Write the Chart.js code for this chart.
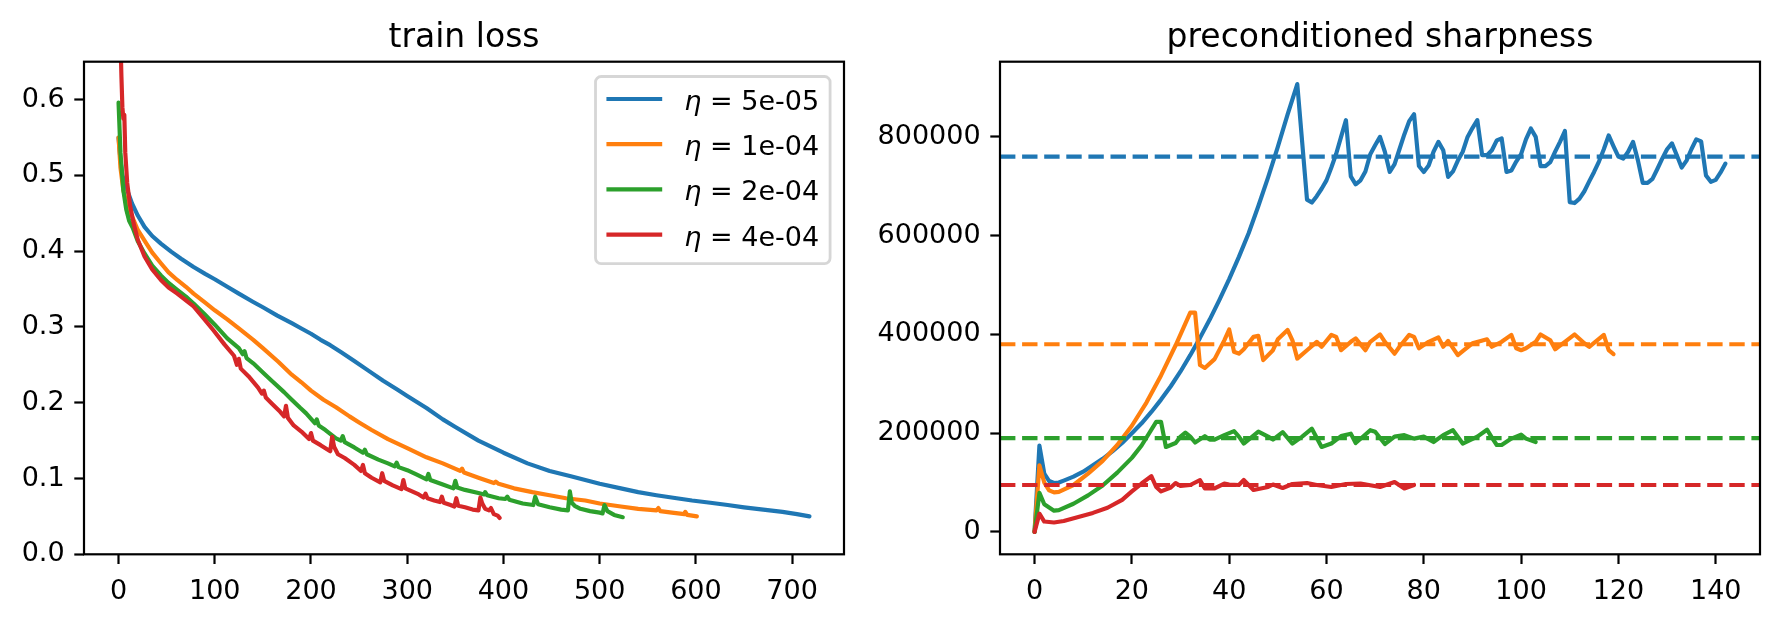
<!DOCTYPE html>
<html><head><meta charset="utf-8">
<script src="https://cdn.jsdelivr.net/npm/chart.js@4"></script>
<style>
html,body{margin:0;padding:0;background:#fff;}
#wrap{position:relative;width:1780px;height:622px;overflow:hidden;background:#fff;}
canvas{position:absolute;top:0;}
</style></head><body>
<div id="wrap">
<canvas id="c1" width="890" height="622" style="left:0px"></canvas>
<canvas id="c2" width="920" height="622" style="left:860px"></canvas>
</div>
<script>
// ---------- data ----------
const LR_LABELS = ['5e-05', '1e-04', '2e-04', '4e-04'];
const COLORS = ['#1f77b4', '#ff7f0e', '#2ca02c', '#d62728'];

const LOSS_X_TICKS = [0, 100, 200, 300, 400, 500, 600, 700];
const LOSS_Y_TICKS = [0, 0.1, 0.2, 0.3, 0.4, 0.5, 0.6];
const LOSS_Y_RANGE = [0, 0.65];
const SHARP_X_TICKS = [0, 20, 40, 60, 80, 100, 120, 140];
const SHARP_Y_TICKS = [0, 200000, 400000, 600000, 800000];

// train loss: [step, loss]
const lossA = [[0,0.55],[2,0.52],[4,0.50],[7,0.487],[10,0.477],[14,0.463],[20,0.447],[27,0.432],[35,0.420],[44,0.410],[55,0.399],[65,0.390],[78,0.379],[90,0.370],[100,0.363],[113,0.353],[125,0.344],[140,0.333],[150,0.326],[165,0.315],[180,0.305],[190,0.298],[200,0.291],[210,0.283],[220,0.276],[231,0.267],[245,0.255],[260,0.242],[275,0.229],[290,0.217],[300,0.209],[320,0.193],[337,0.178],[350,0.168],[374,0.150],[400,0.134],[425,0.120],[448,0.110],[470,0.103],[485,0.098],[500,0.093],[522,0.087],[540,0.082],[559,0.078],[580,0.074],[596,0.071],[615,0.068],[633,0.065],[650,0.062],[670,0.059],[690,0.056],[705,0.053],[718,0.050]];
const lossB = [[0,0.55],[2,0.51],[5,0.48],[10,0.456],[15,0.443],[20,0.428],[27,0.414],[35,0.398],[44,0.384],[52,0.372],[61,0.362],[70,0.353],[78,0.344],[90,0.332],[100,0.322],[113,0.310],[125,0.298],[140,0.283],[150,0.272],[166,0.254],[180,0.237],[190,0.227],[200,0.216],[213,0.204],[226,0.194],[240,0.182],[250,0.174],[263,0.164],[280,0.152],[300,0.140],[320,0.128],[337,0.120],[355,0.110],[357,0.113],[359,0.108],[374,0.101],[390,0.094],[392,0.096],[395,0.093],[411,0.087],[430,0.082],[448,0.078],[465,0.074],[485,0.071],[500,0.067],[522,0.063],[540,0.060],[559,0.058],[561,0.061],[563,0.057],[575,0.055],[588,0.053],[589,0.056],[591,0.052],[601,0.050]];
const lossC = [[0,0.596],[2,0.53],[5,0.48],[8,0.455],[11,0.44],[15,0.430],[20,0.413],[27,0.397],[35,0.381],[44,0.368],[52,0.358],[61,0.349],[70,0.340],[78,0.331],[90,0.316],[100,0.303],[113,0.285],[125,0.272],[129,0.264],[131,0.268],[133,0.259],[140,0.252],[150,0.240],[160,0.228],[172,0.214],[180,0.204],[189,0.193],[195,0.186],[204,0.173],[206,0.178],[208,0.170],[215,0.164],[226,0.153],[231,0.150],[233,0.156],[235,0.148],[245,0.141],[254,0.134],[256,0.138],[258,0.132],[270,0.125],[280,0.120],[287,0.116],[289,0.121],[291,0.115],[300,0.111],[310,0.105],[320,0.099],[322,0.106],[324,0.098],[337,0.092],[348,0.087],[350,0.097],[352,0.088],[360,0.085],[374,0.081],[380,0.079],[381,0.082],[383,0.078],[395,0.074],[402,0.073],[404,0.076],[406,0.072],[420,0.067],[431,0.065],[433,0.076],[436,0.066],[448,0.062],[460,0.059],[467,0.058],[469,0.083],[471,0.068],[474,0.064],[480,0.060],[490,0.057],[500,0.055],[503,0.054],[505,0.065],[508,0.057],[515,0.052],[524,0.049]];
const lossD = [[0,0.72],[2,0.68],[3,0.63],[4,0.59],[5,0.575],[6,0.58],[7,0.53],[9,0.49],[12,0.46],[16,0.435],[20,0.415],[27,0.393],[35,0.376],[44,0.362],[52,0.352],[61,0.344],[70,0.335],[78,0.327],[88,0.312],[99,0.295],[110,0.277],[120,0.262],[123,0.250],[125,0.258],[127,0.245],[135,0.235],[145,0.220],[149,0.212],[151,0.216],[153,0.207],[160,0.198],[168,0.188],[172,0.182],[174,0.196],[176,0.180],[182,0.170],[190,0.162],[198,0.152],[200,0.160],[202,0.150],[210,0.144],[220,0.136],[222,0.155],[224,0.142],[228,0.132],[235,0.127],[245,0.118],[252,0.110],[254,0.118],[256,0.107],[263,0.101],[272,0.095],[274,0.107],[276,0.097],[285,0.091],[294,0.086],[296,0.098],[298,0.087],[305,0.083],[312,0.079],[317,0.075],[319,0.080],[321,0.074],[328,0.071],[334,0.069],[336,0.076],[338,0.068],[345,0.065],[349,0.063],[351,0.074],[353,0.064],[360,0.062],[368,0.059],[374,0.058],[376,0.075],[378,0.067],[381,0.060],[385,0.058],[387,0.061],[390,0.053],[394,0.051],[396,0.048]];

// preconditioned sharpness: [step, value]
const sharpA = [[0,0],[1,175000],[2,118000],[3,103000],[4,99000],[5,100000],[6,104000],[8,112000],[10,122000],[12,135000],[14,148000],[16,163000],[18,180000],[20,200000],[22,220000],[24,243000],[26,268000],[28,295000],[30,325000],[32,358000],[34,393000],[36,430000],[38,470000],[40,512000],[42,557000],[44,605000],[46,660000],[48,718000],[50,780000],[52,845000],[54,907000],[56,673000],[57,667000],[58,680000],[59,695000],[60,712000],[61,738000],[62,766000],[63,800000],[64,834000],[65,720000],[66,704000],[67,712000],[68,730000],[69,765000],[70,783000],[71,800000],[72,770000],[73,729000],[74,745000],[75,775000],[76,805000],[77,832000],[78,846000],[79,741000],[80,729000],[81,742000],[82,770000],[83,790000],[84,773000],[85,719000],[86,730000],[87,752000],[88,770000],[89,800000],[90,818000],[91,834000],[92,763000],[93,763000],[94,773000],[95,793000],[96,797000],[97,729000],[98,732000],[99,750000],[100,765000],[101,795000],[102,817000],[103,800000],[104,741000],[105,741000],[106,749000],[107,770000],[108,790000],[109,812000],[110,668000],[111,666000],[112,675000],[113,690000],[114,710000],[115,729000],[116,750000],[117,775000],[118,803000],[119,781000],[120,760000],[121,756000],[122,770000],[123,790000],[124,753000],[125,707000],[126,707000],[127,715000],[128,735000],[129,756000],[130,775000],[131,787000],[132,763000],[133,738000],[134,752000],[135,775000],[136,795000],[137,791000],[138,722000],[139,709000],[140,713000],[141,728000],[142,746000]];
const sharpB = [[0,0],[1,135000],[2,100000],[3,84000],[4,80000],[5,81000],[8,95000],[11,118000],[14,144000],[17,176000],[20,215000],[23,262000],[26,317000],[29,378000],[32,444000],[33,444000],[34,338000],[35,332000],[37,350000],[39,388000],[40,410000],[41,365000],[42,361000],[43,370000],[45,395000],[46,397000],[47,348000],[49,368000],[50,390000],[52,409000],[53,388000],[54,351000],[56,368000],[58,385000],[59,375000],[61,399000],[62,395000],[63,368000],[65,385000],[66,392000],[68,368000],[69,385000],[71,400000],[72,385000],[74,361000],[75,375000],[77,399000],[78,395000],[79,372000],[81,385000],[83,394000],[84,375000],[85,387000],[87,358000],[88,366000],[90,382000],[93,390000],[94,375000],[96,385000],[98,399000],[99,372000],[100,368000],[101,372000],[103,385000],[104,400000],[106,388000],[107,370000],[109,385000],[111,400000],[113,382000],[114,375000],[117,399000],[118,368000],[119,360000]];
const sharpC = [[0,0],[1,79000],[2,56000],[4,43000],[5,44000],[8,57000],[11,74000],[14,94000],[17,120000],[20,150000],[22,175000],[25,223000],[26,223000],[27,172000],[29,180000],[30,193000],[31,201000],[32,193000],[33,181000],[35,194000],[36,187000],[37,187000],[39,196000],[41,204000],[42,193000],[43,179000],[46,203000],[48,193000],[49,187000],[51,202000],[53,179000],[55,193000],[57,209000],[59,172000],[61,179000],[63,194000],[65,199000],[66,180000],[69,206000],[70,203000],[72,178000],[74,193000],[76,196000],[78,189000],[80,193000],[82,182000],[84,196000],[86,206000],[88,179000],[91,193000],[93,207000],[94,191000],[95,176000],[96,176000],[98,189000],[100,197000],[101,189000],[103,182000]];
const sharpD = [[0,0],[1,37000],[2,21000],[4,19000],[6,22000],[9,30000],[12,38500],[15,49000],[18,65000],[20,82000],[22,98000],[24,113000],[25,91000],[26,82000],[28,90000],[29,99000],[30,93000],[32,95000],[34,105000],[35,88000],[37,88000],[39,98000],[40,96000],[42,95000],[43,105000],[45,85000],[48,91000],[49,96000],[51,89000],[53,97000],[56,99000],[58,95000],[61,91000],[64,97000],[67,98000],[71,91000],[74,101000],[76,88000],[78,95000]];
const SHARP_THRESH = [760000, 380000, 190000, 95000];

// ---------- styles ----------
const FONT = 'DejaVu Sans';
const TICK_FS = 27, TITLE_FS = 33;
const LW = 4.17, SPINE_W = 2.2, TICK_LEN = 9.7;
const TOP = 61.7, XAXIS_H = 67.7;

const toXY = arr => arr.map(p => ({x: p[0], y: p[1]}));
function padRange(vals, frac) {
  const mn = Math.min(...vals), mx = Math.max(...vals), d = (mx - mn) * frac;
  return [mn - d, mx + d];
}

const framePlugin = {
  id: 'mplFrame',
  afterDraw(chart, args, o) {
    const {ctx, chartArea: a} = chart;
    ctx.save();
    ctx.strokeStyle = '#000';
    ctx.lineWidth = SPINE_W;
    ctx.strokeRect(a.left, a.top, a.right - a.left, a.bottom - a.top);
    ctx.fillStyle = '#000';
    ctx.font = TITLE_FS + 'px "' + FONT + '"';
    ctx.textAlign = 'center';
    ctx.textBaseline = 'alphabetic';
    ctx.fillText(o.title, (a.left + a.right) / 2, 46.8);
    ctx.restore();
  }
};

const legendPlugin = {
  id: 'mplLegend',
  afterDraw(chart, args, o) {
    if (!o.items) return;
    const {ctx, chartArea: a} = chart;
    const fs = TICK_FS;
    const it = 'italic ' + fs + 'px "' + FONT + '"', nf = fs + 'px "' + FONT + '"';
    ctx.save();
    const parts = o.items.map(d => {
      ctx.font = it; const w1 = ctx.measureText('η').width;
      ctx.font = nf; const w2 = ctx.measureText(' = ' + d.label).width;
      return {w1, w2, label: d.label, color: d.color};
    });
    const maxW = Math.max(...parts.map(p => p.w1 + p.w2));
    const bp = 11, hl = 55.6, hp = 22.2, pitch = 45.2, first = 22.5, last = 29;
    const right = a.right - 13.9, top = a.top + 14.8;
    const left = right - (bp * 2 + hl + hp + maxW);
    const bottom = top + first + pitch * (parts.length - 1) + last;
    const r = 5.6;
    ctx.beginPath();
    ctx.moveTo(left + r, top);
    ctx.lineTo(right - r, top); ctx.arcTo(right, top, right, top + r, r);
    ctx.lineTo(right, bottom - r); ctx.arcTo(right, bottom, right - r, bottom, r);
    ctx.lineTo(left + r, bottom); ctx.arcTo(left, bottom, left, bottom - r, r);
    ctx.lineTo(left, top + r); ctx.arcTo(left, top, left + r, top, r);
    ctx.closePath();
    ctx.fillStyle = 'rgba(255,255,255,0.8)';
    ctx.fill();
    ctx.strokeStyle = 'rgba(204,204,204,0.8)';
    ctx.lineWidth = 2.8;
    ctx.stroke();
    parts.forEach((p, i) => {
      const y = top + first + i * pitch;
      const x0 = left + bp;
      ctx.beginPath();
      ctx.moveTo(x0 + 2, y); ctx.lineTo(x0 + hl - 2, y);
      ctx.strokeStyle = p.color; ctx.lineWidth = LW; ctx.lineCap = 'square';
      ctx.stroke();
      const tx = x0 + hl + hp;
      ctx.fillStyle = '#000';
      ctx.textAlign = 'left'; ctx.textBaseline = 'alphabetic';
      ctx.font = it; ctx.fillText('η', tx, y + 11);
      ctx.font = nf; ctx.fillText(' = ' + p.label, tx + p.w1, y + 11);
    });
    ctx.restore();
  }
};

function axis(range, ticks, fmt, padding, fitFn) {
  return {
    type: 'linear', min: range[0], max: range[1],
    afterBuildTicks: s => { s.ticks = ticks.map(v => ({value: v})); },
    afterFit: fitFn,
    grid: {display: true, drawOnChartArea: false, drawTicks: true, tickLength: TICK_LEN, tickWidth: SPINE_W, tickColor: '#000'},
    border: {display: false},
    ticks: {color: '#000', font: {family: FONT, size: TICK_FS}, padding: padding, autoSkip: false, maxRotation: 0, minRotation: 0, callback: v => fmt(v)}
  };
}

function lineDs(arr, color, order, dash) {
  return {
    data: arr, borderColor: color, backgroundColor: color, borderWidth: LW,
    borderDash: dash || [], borderCapStyle: dash ? 'butt' : 'round', borderJoinStyle: 'round',
    pointRadius: 0, pointHoverRadius: 0, tension: 0, fill: false, clip: 0, order: order
  };
}

function makeChart(id, datasets, xr, yr, xt, yt, xf, yf, yAxisW, padRight, title, legendItems) {
  return new Chart(document.getElementById(id), {
    type: 'line',
    data: {datasets},
    options: {
      responsive: false, animation: false, devicePixelRatio: 1, events: [],
      layout: {padding: {top: TOP, left: 0, right: padRight, bottom: 0}},
      scales: {
        x: axis(xr, xt, xf, 12, s => { s.height = XAXIS_H; }),
        y: Object.assign(axis(yr, yt, yf, 9.7, s => { s.width = yAxisW; }), {position: 'left'})
      },
      plugins: {
        legend: {display: false}, tooltip: {enabled: false}, title: {display: false},
        mplFrame: {title: title},
        mplLegend: {items: legendItems}
      }
    },
    plugins: [framePlugin, legendPlugin]
  });
}

// ---------- left: train loss ----------
const lossSeries = [lossA, lossB, lossC, lossD];
const lossX = padRange(lossSeries.flat().map(p => p[0]), 0.05);
const lossDatasets = lossSeries.map((s, i) => lineDs(toXY(s), COLORS[i], lossSeries.length - i));
makeChart('c1', lossDatasets, lossX, LOSS_Y_RANGE, LOSS_X_TICKS, LOSS_Y_TICKS,
  v => String(v), v => v.toFixed(1), 84, 890 - 844, 'train loss',
  LR_LABELS.map((l, i) => ({label: l, color: COLORS[i]})));

// ---------- right: preconditioned sharpness ----------
const sharpSeries = [sharpA, sharpB, sharpC, sharpD];
const sharpX = padRange(sharpSeries.flat().map(p => p[0]), 0.05);
const sharpY = padRange(sharpSeries.flat().map(p => p[1]), 0.05);
const sharpDatasets = [];
let ord = sharpSeries.length * 2;
sharpSeries.forEach((s, i) => {
  sharpDatasets.push(lineDs(toXY(s), COLORS[i], ord--));
  sharpDatasets.push(lineDs([{x: sharpX[0], y: SHARP_THRESH[i]}, {x: sharpX[1], y: SHARP_THRESH[i]}], COLORS[i], ord--, [15.4, 6.7]));
});
// canvas starts at page x=860: axes box spans page x 1000..1760
makeChart('c2', sharpDatasets, sharpX, sharpY, SHARP_X_TICKS, SHARP_Y_TICKS,
  v => String(v), v => String(v), 1000 - 860, 920 - 900, 'preconditioned sharpness', null);
</script>
</body></html>
